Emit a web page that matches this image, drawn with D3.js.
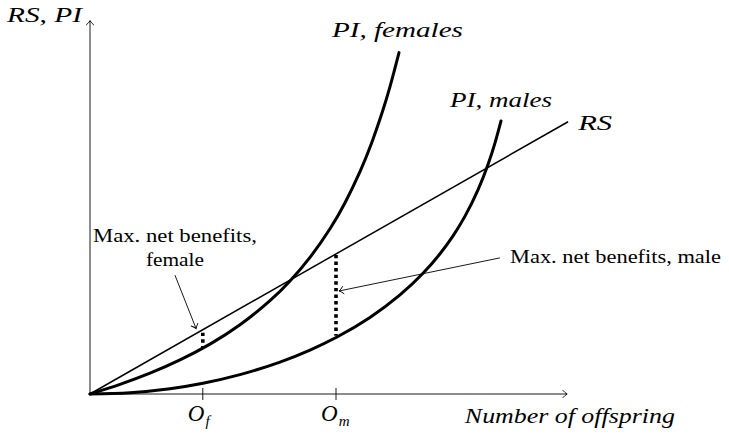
<!DOCTYPE html>
<html>
<head>
<meta charset="utf-8">
<script src="https://cdn.jsdelivr.net/npm/d3@7"></script>
<style>
  body { margin: 0; background: #fff; }
  text { font-family: "Liberation Serif", "DejaVu Serif", serif; fill: #000; }
</style>
</head>
<body>
<div id="chart"></div>
<script>
// values (x: offspring, y: RS / PI, arbitrary units 0..100)
let xAxisMax = 99.4;
let yAxisMax = 99.3;

let rsLine = [[0, 0], [99.6, 72.4]];

let piFemalesX = [0, 6.25, 12.5, 18.75, 25, 31.25, 37.5, 41.67, 45.83, 50, 53.13, 56.25, 58.75, 60.83, 62.5, 64.38];
let piFemalesY = [0, 2.56, 5.53, 9.06, 13.27, 18.4, 24.81, 30.05, 36.33, 43.94, 50.88, 59.15, 67.02, 74.71, 81.73, 90.8];

let piMalesX = [0, 8.33, 16.67, 23.54, 31.25, 39.58, 45.83, 51.46, 58.33, 64.58, 69.38, 72.92, 75.63, 78.13, 80.83, 82.92, 84.38, 85.63];
let piMalesY = [0, 0.35, 1.41, 2.86, 5.15, 8.49, 11.69, 15.16, 20.37, 26.35, 32.1, 37.3, 42.06, 47.3, 54.29, 61.03, 66.77, 72.61];

// optimum points: tick position, RS value and PI value there
let optimaX = [23.5, 51.25];
let optimaTop = [16.3, 37.0];
let optimaBottom = [12.2, 15.5];
let optimaLabel = ['f', 'm'];

let width = 729, height = 441;

let svg = d3.select('#chart').append('svg')
  .attr('width', width).attr('height', height);

let x = d3.scaleLinear().domain([0, 100]).range([90, 570]);
let y = d3.scaleLinear().domain([0, 100]).range([394, 18]);

// latex style open arrow head
let defs = svg.append('defs');
defs.append('marker')
  .attr('id', 'arrow')
  .attr('viewBox', '-6 -5 8 10')
  .attr('refX', 0).attr('refY', 0)
  .attr('markerWidth', 8).attr('markerHeight', 10)
  .attr('markerUnits', 'userSpaceOnUse')
  .attr('orient', 'auto')
  .append('path')
  .attr('d', 'M-4.2,-3.6 Q-1.8,-0.9 0,0 Q-1.8,0.9 -4.2,3.6')
  .attr('fill', 'none')
  .attr('stroke', '#000')
  .attr('stroke-width', 0.9)
  .attr('stroke-linecap', 'round');

// axes
svg.append('line')
  .attr('x1', x(0)).attr('y1', y(0)).attr('x2', x(xAxisMax)).attr('y2', y(0))
  .attr('stroke', '#000').attr('stroke-width', 0.9)
  .attr('marker-end', 'url(#arrow)');
svg.append('line')
  .attr('x1', x(0)).attr('y1', y(0)).attr('x2', x(0)).attr('y2', y(yAxisMax))
  .attr('stroke', '#000').attr('stroke-width', 0.9)
  .attr('marker-end', 'url(#arrow)');

// ticks at O_f and O_m
svg.selectAll('.tick').data(optimaX).enter().append('line')
  .attr('class', 'tick')
  .attr('x1', d => x(d)).attr('x2', d => x(d))
  .attr('y1', y(0) - 6).attr('y2', y(0) + 6)
  .attr('stroke', '#000').attr('stroke-width', 0.9);

let tickLabels = svg.selectAll('.tick-label').data(optimaX).enter().append('text')
  .attr('class', 'tick-label')
  .attr('x', d => x(d) - 15)
  .attr('y', y(0) + 27)
  .attr('font-size', 23)
  .attr('font-style', 'italic');
tickLabels.append('tspan').text('O');
tickLabels.append('tspan')
  .attr('dy', 5)
  .attr('dx', 1)
  .attr('font-size', 15)
  .text((d, i) => optimaLabel[i]);

// RS line
let line = d3.line().x(d => x(d[0])).y(d => y(d[1]));
svg.append('path')
  .attr('d', line(rsLine))
  .attr('fill', 'none').attr('stroke', '#000').attr('stroke-width', 1.5);

// PI curves
let curve = d3.line().x(d => x(d[0])).y(d => y(d[1])).curve(d3.curveNatural);
let femalePts = piFemalesX.map((d, i) => [d, piFemalesY[i]]);
let malePts = piMalesX.map((d, i) => [d, piMalesY[i]]);
[femalePts, malePts].forEach(pts => {
  svg.append('path')
    .attr('d', curve(pts))
    .attr('fill', 'none').attr('stroke', '#000').attr('stroke-width', 3)
    .attr('stroke-linecap', 'round');
});

// net benefit gaps (dotted)
svg.selectAll('.gap').data(optimaX).enter().append('line')
  .attr('class', 'gap')
  .attr('x1', d => x(d)).attr('x2', d => x(d))
  .attr('y1', (d, i) => y(optimaTop[i])).attr('y2', (d, i) => y(optimaBottom[i]))
  .attr('stroke', '#000').attr('stroke-width', 3.6)
  .attr('stroke-dasharray', '3.4,3.2');

// curve labels (math italic, computer modern is wider so stretch a bit)
let mathLabels = [
  {text: 'RS, PI', x: -17.3, y: 98.9, len: 75},
  {text: 'PI, females', x: 50.4, y: 94.9, len: 131},
  {text: 'PI, males', x: 75.0, y: 76.3, len: 102},
  {text: 'RS', x: 101.7, y: 70.2, len: 34},
  {text: 'Number of offspring', x: 78.1, y: -7.6, len: 210}
];
svg.selectAll('.math').data(mathLabels).enter().append('text')
  .attr('class', 'math')
  .attr('x', d => x(d.x)).attr('y', d => y(d.y))
  .attr('font-size', 22)
  .attr('font-style', 'italic')
  .attr('textLength', d => d.len)
  .attr('lengthAdjust', 'spacingAndGlyphs')
  .text(d => d.text);

// annotations
let femaleNote = svg.append('text')
  .attr('font-size', 19)
  .attr('text-anchor', 'middle');
femaleNote.append('tspan')
  .attr('x', x(17.7)).attr('y', y(40.4))
  .attr('textLength', 164).attr('lengthAdjust', 'spacingAndGlyphs')
  .text('Max. net benefits,');
femaleNote.append('tspan')
  .attr('x', x(17.7)).attr('y', y(34.0))
  .attr('textLength', 58).attr('lengthAdjust', 'spacingAndGlyphs')
  .text('female');

svg.append('text')
  .attr('x', x(87.5)).attr('y', y(34.8))
  .attr('font-size', 19)
  .attr('textLength', 211).attr('lengthAdjust', 'spacingAndGlyphs')
  .text('Max. net benefits, male');

let arrows = [
  [[17.7, 31.6], [22.1, 17.4]],
  [[85.4, 36.2], [51.9, 27.4]]
];
svg.selectAll('.note-arrow').data(arrows).enter().append('path')
  .attr('class', 'note-arrow')
  .attr('d', d => line(d))
  .attr('fill', 'none').attr('stroke', '#000').attr('stroke-width', 0.9)
  .attr('marker-end', 'url(#arrow)');
</script>
</body>
</html>
